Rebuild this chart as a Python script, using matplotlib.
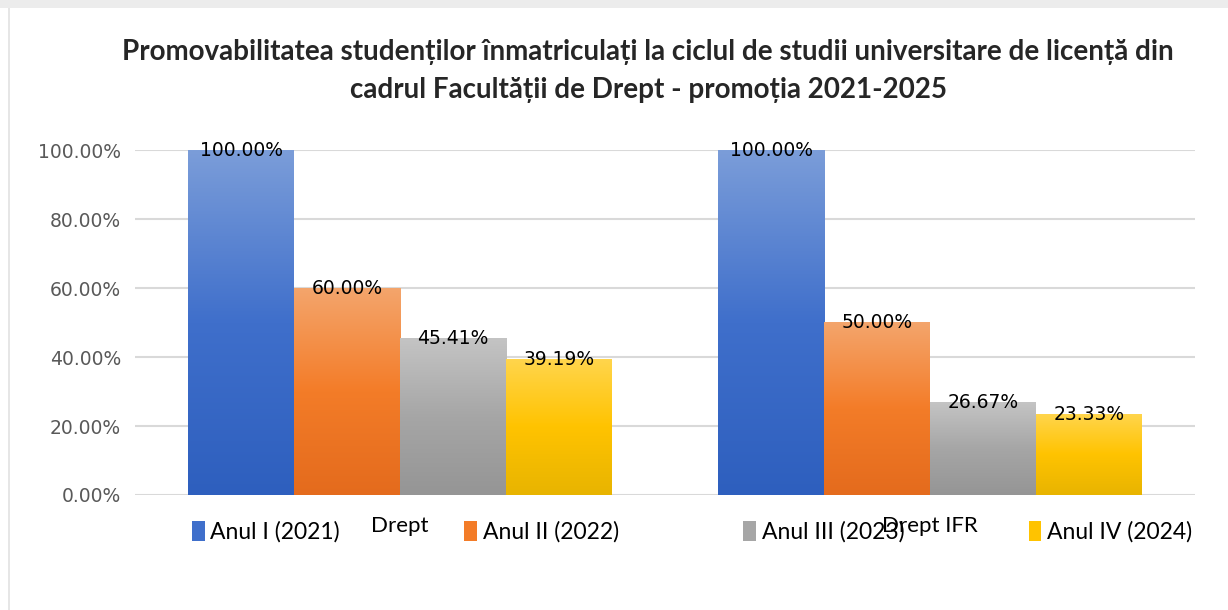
import numpy as np
import matplotlib
matplotlib.use("Agg")
import matplotlib.pyplot as plt
from matplotlib.colors import LinearSegmentedColormap
from matplotlib.patches import Rectangle
from matplotlib.ticker import FuncFormatter

# data
categories = ["Drept", "Drept IFR"]
series = ["Anul I (2021)", "Anul II (2022)", "Anul III (2023)", "Anul IV (2024)"]
values = [
    [1.0, 1.0],
    [0.60, 0.50],
    [0.4541, 0.2667],
    [0.3919, 0.2333],
]
title_lines = [
    "Promovabilitatea studenților înmatriculați la ciclul de studii universitare de licență din",
    "cadrul Facultății de Drept - promoția 2021-2025",
]

# gradient stops per series: bottom, middle, top
gradients = [
    ["#2E5FBE", "#3F6FCB", "#7B9DD9"],
    ["#E46B1D", "#F37C28", "#F4A56C"],
    ["#959595", "#A6A6A6", "#C4C4C4"],
    ["#E8B400", "#FFC300", "#FFD54C"],
]

fig = plt.figure(figsize=(12.28, 6.10), dpi=100)
fig.patch.set_facecolor("white")

# screenshot frame
fig.add_artist(Rectangle((0, 1 - 8 / 610), 1, 8 / 610, transform=fig.transFigure,
                         facecolor="#ececec", edgecolor="none"))
fig.add_artist(Rectangle((8 / 1228, 0), 2 / 1228, 1 - 8 / 610, transform=fig.transFigure,
                         facecolor="#e6e6e6", edgecolor="none"))

ax = fig.add_axes([135 / 1228, 1 - 495 / 610, 1060 / 1228, 345 / 610])

x = np.arange(len(categories))
width = 0.2
offsets = (np.arange(len(series)) - 1.5) * width

handles = []
for i, name in enumerate(series):
    bars = ax.bar(x + offsets[i], values[i], width, color=gradients[i][1],
                  label=name, zorder=2, linewidth=0)
    handles.append(bars)
    cmap = LinearSegmentedColormap.from_list(f"g{i}", gradients[i])
    for b, v in zip(bars, values[i]):
        x0, y0, w, h = b.get_x(), b.get_y(), b.get_width(), b.get_height()
        grad = np.linspace(0, 1, 256).reshape(-1, 1)
        ax.imshow(grad, extent=[x0, x0 + w, y0, y0 + h], origin="lower",
                  cmap=cmap, aspect="auto", zorder=3)
        ax.text(x0 + w / 2, y0 + h, f"{v:.2%}", ha="center", va="center",
                fontsize=13.5, color="black", zorder=5, family="DejaVu Sans")

ax.set_xlim(-0.5, 1.5)
ax.set_ylim(0, 1.0)
ax.set_yticks(np.arange(0, 1.01, 0.2))
ax.yaxis.set_major_formatter(FuncFormatter(lambda v, p: f"{v:.2%}"))
ax.set_xticks(x)
ax.set_xticklabels(categories, fontsize=16, family="Lato", color="black")
ax.tick_params(axis="y", length=0, pad=10, labelsize=13.5, labelcolor="#595959")
ax.tick_params(axis="x", length=0, pad=15)
ax.grid(axis="y", color="#d9d9d9", linewidth=1.5, zorder=0)
for s in ax.spines.values():
    s.set_visible(False)

fig.text(648 / 1228, 1 - 52 / 610, title_lines[0], ha="center", va="center",
         fontsize=20, fontweight="bold", family="Lato", color="#262626")
fig.text(648 / 1228, 1 - 90 / 610, title_lines[1], ha="center", va="center",
         fontsize=20, fontweight="bold", family="Lato", color="#262626")

fig.legend(handles=handles, labels=series, loc="center", ncol=4, mode="expand",
           bbox_to_anchor=(192 / 1228, 1 - 532 / 610, 1000 / 1228, 0),
           frameon=False, borderpad=0, borderaxespad=0, handlelength=0.55,
           handleheight=1.0, handletextpad=0.25,
           prop={"family": "Lato", "size": 16.5})

fig.savefig("out.png", dpi=100)
